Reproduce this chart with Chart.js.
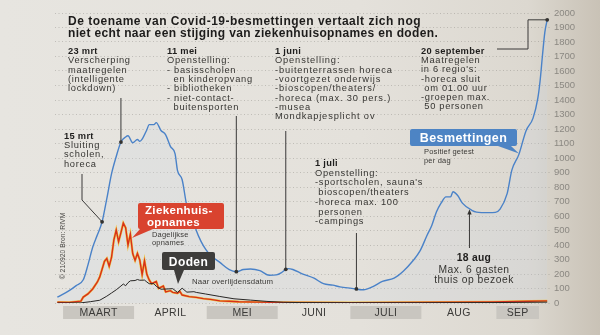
<!DOCTYPE html>
<html lang="nl">
<head>
<meta charset="utf-8">
<title>Covid-19 besmettingen, ziekenhuisopnames en doden</title>
<script src="https://cdn.jsdelivr.net/npm/chart.js@4/dist/chart.umd.min.js"></script>
<style>
  html, body { margin: 0; padding: 0; }
  body {
    width: 600px; height: 335px; overflow: hidden;
    background: linear-gradient(90deg, #e7e5e0 0%, #e4e1db 60%, #dcd8d0 88%, #c9c2b6 100%);
  }
  canvas { display: block; }
</style>
</head>
<body>
<canvas id="grafiek" width="600" height="335"></canvas>
<script>
// Positief geteste personen per dag (datum 2020, MM-DD)
const besmettingenDatum = ['02-25','03-01','03-04','03-07','03-09','03-11','03-13','03-15','03-17','03-19',
  '03-21','03-23','03-25','03-26','03-28','03-30','03-31','04-01','04-03','04-04','04-06','04-07','04-09',
  '04-11','04-13','04-15','04-16','04-18','04-20','04-22','04-24','04-26','04-28','04-30','05-04','05-08',
  '05-11','05-14','05-17','05-21','05-25','05-28','05-30','06-01','06-02','06-04','06-08','06-13','06-17',
  '06-21','06-24','06-29','07-04','07-08','07-12','07-17','07-21','07-25','07-28','07-31','08-02','08-04',
  '08-06','08-08','08-10','08-11','08-13','08-15','08-19','08-21','08-26','08-29','08-31','09-03','09-05',
  '09-08','09-11','09-14','09-16','09-17','09-18','09-19','09-20'];
const besmettingen = [40, 85, 120, 160, 263, 384, 470, 560, 720, 890,
  1010, 1110, 1145, 1153, 1105, 1128, 1115, 1130, 1195, 1230, 1230, 1244, 1190,
  1160, 1080, 1028, 915, 850, 670, 610, 500, 425, 370, 330, 280, 230,
  216, 231, 234, 223, 191, 194, 208, 232, 237, 231, 201, 171, 133,
  123, 111, 101, 91, 113, 149, 172, 221, 291, 359, 467, 535, 629,
  690, 732, 732, 767, 741, 689, 639, 627, 623, 625, 647, 754, 916,
  1025, 1187, 1275, 1409, 1533, 1707, 1867, 1953];

// Dagelijkse ziekenhuisopnames
const opnamesDatum = ['02-25','03-01','03-06','03-07','03-09','03-11','03-13','03-14','03-15','03-16',
  '03-17','03-18','03-19','03-20','03-21','03-22','03-23','03-24','03-25','03-26','03-27','03-28','03-29',
  '03-30','03-31','04-01','04-02','04-03','04-04','04-05','04-07','04-08','04-10','04-11','04-13','04-14',
  '04-16','04-17','04-18','04-21','04-24','04-27','04-30','05-04','05-08','05-12','05-20','05-30','06-09',
  '06-29','07-19','08-08','08-28','09-12','09-20'];
const opnames = [5, 4, 13, 41, 63, 97, 145, 180, 233, 287,
  307, 254, 315, 435, 503, 423, 485, 551, 519, 400, 474, 341, 294,
  342, 297, 197, 291, 198, 159, 133, 148, 101, 117, 77, 85, 73,
  67, 80, 55, 44, 39, 30, 25, 15, 12, 9, 6, 4, 3,
  2, 3, 5, 7, 12, 15];

// Doden naar overlijdensdatum
const dodenDatum = ['02-25','03-06','03-10','03-14','03-17','03-19','03-21','03-23','03-24','03-25',
  '03-26','03-27','03-29','03-30','03-31','04-02','04-03','04-04','04-06','04-07','04-09','04-12','04-14',
  '04-16','04-18','04-20','04-23','04-24','04-28','05-04','05-10','05-17','05-24','05-31','06-07','06-29',
  '07-29','08-28','09-20'];
const doden = [0, 1, 9, 19, 47, 69, 91, 117, 131, 119,
  140, 153, 155, 162, 157, 158, 145, 133, 133, 115, 95, 97, 99,
  73, 102, 75, 78, 73, 62, 45, 29, 20, 11, 5, 3, 2,
  2, 3, 6];

// As en maanden
const yTicks = { min: 0, max: 2000, stap: 100 };
const maanden = ['MAART', 'APRIL', 'MEI', 'JUNI', 'JULI', 'AUG', 'SEP'];
const maandStart = ['03-01', '04-01', '05-01', '06-01', '07-01', '08-01', '09-01'];

// Gebeurtenissen langs de besmettingslijn
const gebeurtenissen = [
  { datum: '03-15', kop: '15 mrt', regels: ['Sluiting', 'scholen,', 'horeca'] },
  { datum: '03-23', kop: '23 mrt', regels: ['Verscherping', 'maatregelen', '(intelligente', 'lockdown)'] },
  { datum: '05-11', kop: '11 mei', regels: ['Openstelling:', '- basisscholen', '  en kinderopvang', '- bibliotheken', '- niet-contact-', '  buitensporten'] },
  { datum: '06-01', kop: '1 juni', regels: ['Openstelling:', '-buitenterrassen horeca', '-voortgezet onderwijs', '-bioscopen/theaters/', '-horeca (max. 30 pers.)', '-musea', 'Mondkapjesplicht ov'] },
  { datum: '07-01', kop: '1 juli', regels: ['Openstelling:', '-sportscholen, sauna\'s', ' bioscopen/theaters', '-horeca max. 100', ' personen', '-campings'] },
  { datum: '08-18', kop: '18 aug', regels: ['Max. 6 gasten', 'thuis op bezoek'] },
  { datum: '09-20', kop: '20 september', regels: ['Maatregelen', 'in 6 regio\'s:', '-horeca sluit', ' om 01.00 uur', '-groepen max.', ' 50 personen'] }
];

const titel = ['De toename van Covid-19-besmettingen vertaalt zich nog',
               'niet echt naar een stijging van ziekenhuisopnames en doden.'];
const bron = '\u00A9 210920 Bron: RIVM';

// ---------- hulpfuncties ----------
const NUL = Date.UTC(2020, 2, 1);
function dag(s) {
  const [m, d] = s.split('-').map(Number);
  return (Date.UTC(2020, m - 1, d) - NUL) / 86400000;
}
function punten(datums, waarden) {
  return datums.map((d, i) => ({ x: dag(d), y: waarden[i] }));
}
const bPunten = punten(besmettingenDatum, besmettingen);
function besmettingOp(d) {
  for (let i = 0; i < bPunten.length - 1; i++) {
    const a = bPunten[i], b = bPunten[i + 1];
    if (d >= a.x && d <= b.x) return a.y + (b.y - a.y) * (d - a.x) / (b.x - a.x);
  }
  return bPunten[bPunten.length - 1].y;
}

const FONT = '"Liberation Sans", Arial, Helvetica, sans-serif';
function tekst(ctx, s, x, y, o = {}) {
  const size = o.size || 10, weight = o.weight || 'normal';
  ctx.font = `${weight} ${size}px ${FONT}`;
  ctx.letterSpacing = (o.ls !== undefined ? o.ls : 0.5) + 'px';
  ctx.fillStyle = o.color || '#2e2d2b';
  ctx.textAlign = o.align || 'left';
  ctx.textBaseline = o.baseline || 'alphabetic';
  ctx.fillText(s, x, y);
}
function lijn(ctx, pts, kleur = '#3a3938', w = 1) {
  ctx.beginPath();
  ctx.moveTo(pts[0][0], pts[0][1]);
  for (let i = 1; i < pts.length; i++) ctx.lineTo(pts[i][0], pts[i][1]);
  ctx.strokeStyle = kleur; ctx.lineWidth = w; ctx.stroke();
}
function stip(ctx, x, y) {
  ctx.beginPath(); ctx.arc(x, y, 1.9, 0, Math.PI * 2);
  ctx.fillStyle = '#333230'; ctx.fill();
}
function ballon(ctx, x, y, w, h, punt, kleur) {
  const r = 2;
  ctx.beginPath();
  ctx.moveTo(x + r, y);
  ctx.lineTo(x + w - r, y); ctx.quadraticCurveTo(x + w, y, x + w, y + r);
  ctx.lineTo(x + w, y + h - r); ctx.quadraticCurveTo(x + w, y + h, x + w - r, y + h);
  ctx.lineTo(punt[2], y + h); ctx.lineTo(punt[4], punt[5]); ctx.lineTo(punt[0], y + h);
  ctx.lineTo(x + r, y + h); ctx.quadraticCurveTo(x, y + h, x, y + h - r);
  ctx.lineTo(x, y + r); ctx.quadraticCurveTo(x, y, x + r, y);
  ctx.closePath();
  ctx.fillStyle = kleur; ctx.fill();
}

// ---------- opmaak van teksten en labels ----------
const kaders = {
  '15 mrt':       { x: 64,  y: 139, stap: 9.2 },
  '23 mrt':       { x: 68,  y: 54,  stap: 9.3 },
  '11 mei':       { x: 167, y: 54,  stap: 9.3 },
  '1 juni':       { x: 275, y: 54,  stap: 9.3, ls: 0.85 },
  '1 juli':       { x: 315, y: 166, stap: 9.7 },
  '18 aug':       { x: 474, y: 261, stap: 10.5, align: 'center', size: 10.3, ls: 0.5 },
  '20 september': { x: 421, y: 54,  stap: 9.2 }
};

const decor = {
  id: 'decor',
  afterDatasetsDraw(chart) {
    const { ctx, scales: { x, y }, chartArea } = chart;
    const px = d => x.getPixelForValue(d);
    const py = v => y.getPixelForValue(v);
    ctx.save();

    // titel
    tekst(ctx, titel[0], 68, 25, { size: 12, weight: 'bold', color: '#1d1c1b', ls: 0.5 });
    tekst(ctx, titel[1], 68, 37, { size: 12, weight: 'bold', color: '#1d1c1b', ls: 0.35 });

    // gebeurtenissen
    gebeurtenissen.forEach(g => {
      const k = kaders[g.kop];
      const size = k.size || 9.3;
      const ls = k.ls !== undefined ? k.ls : 0.7;
      tekst(ctx, g.kop, k.x, k.y, { size, weight: 'bold', color: '#1f1e1d', align: k.align, ls: 0.3 });
      g.regels.forEach((r, i) => {
        tekst(ctx, r, k.x, k.y + k.stap * (i + 1) + (k.align ? 1 : 0), { size, color: '#363532', align: k.align, ls });
      });
      const dx = px(dag(g.datum)), dy = py(besmettingOp(dag(g.datum)));
      if (g.kop === '15 mrt') {
        lijn(ctx, [[82, 174], [82, 200], [dx, dy]]); stip(ctx, dx, dy);
      } else if (g.kop === '23 mrt') {
        lijn(ctx, [[dx, 98], [dx, dy]]); stip(ctx, dx, dy);
      } else if (g.kop === '11 mei') {
        lijn(ctx, [[dx, 116], [dx, dy]]); stip(ctx, dx, dy);
      } else if (g.kop === '1 juni') {
        lijn(ctx, [[dx, 131], [dx, dy]]); stip(ctx, dx, dy);
      } else if (g.kop === '1 juli') {
        lijn(ctx, [[dx, 233], [dx, dy]]); stip(ctx, dx, dy);
      } else if (g.kop === '18 aug') {
        lijn(ctx, [[dx, 248], [dx, dy + 2]]);
        ctx.beginPath(); ctx.moveTo(dx, dy + 1); ctx.lineTo(dx - 2.2, dy + 6); ctx.lineTo(dx + 2.2, dy + 6);
        ctx.closePath(); ctx.fillStyle = '#333230'; ctx.fill();
      } else if (g.kop === '20 september') {
        lijn(ctx, [[497, 49], [528, 49], [528, dy], [dx, dy]]); stip(ctx, dx, dy);
      }
    });

    // label Besmettingen
    const bTip = [px(dag('09-08')), py(besmettingOp(dag('09-08'))) - 1];
    ballon(ctx, 410, 129, 107, 17, [498, 0, 511, 0, bTip[0], bTip[1]], '#4d84c4');
    tekst(ctx, 'Besmettingen', 463.5, 142, { size: 12.5, weight: 'bold', color: '#ffffff', align: 'center', ls: 0.4 });
    tekst(ctx, 'Positief getest', 424, 154, { size: 7.5, color: '#3a3936', ls: 0.2 });
    tekst(ctx, 'per dag', 424, 162.5, { size: 7.5, color: '#3a3936', ls: 0.2 });

    // label Ziekenhuisopnames
    ballon(ctx, 138, 203, 86, 26, [140, 0, 153, 0, 132, 238], '#d9432f');
    tekst(ctx, 'Ziekenhuis-', 145, 214, { size: 11.5, weight: 'bold', color: '#ffffff', ls: 0.35 });
    tekst(ctx, 'opnames', 147, 225.5, { size: 11.5, weight: 'bold', color: '#ffffff', ls: 0.35 });
    tekst(ctx, 'Dagelijkse', 152, 237, { size: 7.5, color: '#3a3936', ls: 0.2 });
    tekst(ctx, 'opnames', 152, 245, { size: 7.5, color: '#3a3936', ls: 0.2 });

    // label Doden
    ballon(ctx, 162, 252, 53, 18, [174, 0, 184, 0, 178, 284], '#3e3d3b');
    tekst(ctx, 'Doden', 188.5, 265.5, { size: 12, weight: 'bold', color: '#ffffff', align: 'center', ls: 0.4 });
    tekst(ctx, 'Naar overlijdensdatum', 192, 284, { size: 7.8, color: '#3a3936', ls: 0.15 });

    // maandbalk
    const boven = chartArea.bottom + 3, hoogte = 13;
    maanden.forEach((m, i) => {
      const a = px(dag(maandStart[i]) - 3);
      const b = i < maanden.length - 1 ? px(dag(maandStart[i + 1]) - 3) : chartArea.right - 10;
      if (i % 2 === 0) {
        ctx.fillStyle = '#c9c6c0';
        ctx.fillRect(a + 1, boven, b - a - 2, hoogte);
      }
      tekst(ctx, m, (a + b) / 2, boven + hoogte / 2 + 0.5, { size: 10.5, color: '#3b3a38', align: 'center', baseline: 'middle', ls: 0.3 });
    });

    // bronvermelding
    ctx.save();
    ctx.translate(65, 246);
    ctx.rotate(-Math.PI / 2);
    tekst(ctx, bron, 0, 0, { size: 6.8, color: '#4a4946', align: 'center', ls: 0 });
    ctx.restore();

    ctx.restore();
  }
};

const opnamePunten = punten(opnamesDatum, opnames);

new Chart(document.getElementById('grafiek'), {
  type: 'line',
  data: {
    datasets: [
      { label: 'Doden', data: punten(dodenDatum, doden), borderColor: '#272625', borderWidth: 1,
        pointRadius: 0, tension: 0, order: 1 },
      { label: 'Ziekenhuisopnames', data: opnamePunten, borderColor: '#d8301b', borderWidth: 1.4,
        pointRadius: 0, tension: 0, order: 2 },
      { label: 'Ziekenhuisopnames (rand)', data: opnamePunten, borderColor: '#efc445', borderWidth: 2.4,
        pointRadius: 0, tension: 0, order: 3 },
      { label: 'Besmettingen', data: bPunten, borderColor: '#4a82c8', borderWidth: 1.4,
        pointRadius: 0, cubicInterpolationMode: 'monotone', fill: 'origin',
        backgroundColor: 'rgba(205,214,226,0.22)', order: 4 }
    ]
  },
  options: {
    responsive: false,
    animation: false,
    devicePixelRatio: 1,
    layout: { padding: { left: 55, top: 13, bottom: 32, right: 0 } },
    plugins: { legend: { display: false }, tooltip: { enabled: false } },
    scales: {
      x: { type: 'linear', min: -6, max: 204.2, display: false },
      y: {
        position: 'right',
        min: yTicks.min, max: yTicks.max,
        ticks: { stepSize: yTicks.stap, padding: 4, color: '#8b8882',
                 font: { family: FONT, size: 9.5 },
                 callback: v => String(v) },
        grid: { color: 'rgba(90,88,84,0.35)', lineWidth: 0.8, drawTicks: false },
        border: { display: false, dash: [1, 2.5] },
        afterFit(scale) { scale.width = 50; }
      }
    }
  },
  plugins: [decor]
});
</script>
</body>
</html>
